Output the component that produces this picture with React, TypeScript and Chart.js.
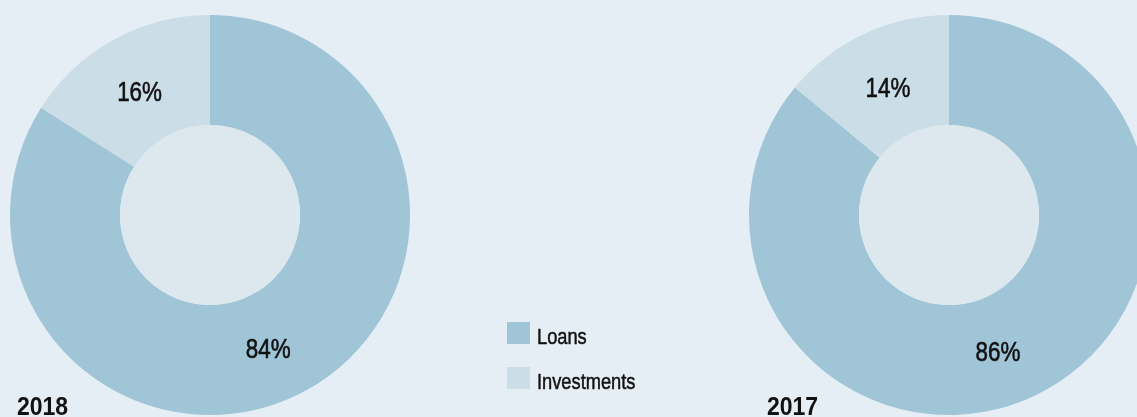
import React, { useEffect, useRef } from "react";
import { Chart, registerables } from "chart.js";

Chart.register(...registerables);

const CATEGORIES = ["Loans", "Investments"];
const YEARS = ["2018", "2017"];
const VALUES_2018 = [84, 16];
const VALUES_2017 = [86, 14];
const SERIES = [VALUES_2018, VALUES_2017];

// styling / layout (not data)
const COLORS = ["#9fc5d6", "#cbdde6"];
const HOLE_COLOR = "#dce8ee";
const BG = "#e6eef5";
const FONT = "'Liberation Sans', Arial, sans-serif";
const W = 1137;
const H = 417;
const CANVAS_W = [W, 1160];
// chart area paddings for each doughnut
const PADS = [
  { left: 10, top: 15, right: W - 410, bottom: H - 415 },
  { left: 749, top: 15, right: 1160 - 1149, bottom: H - 415 },
];
// label polar positions relative to center: [angleDeg, radius]
const LABEL_POLAR = [
  [[66.4, 145.5], [-119.6, 142.6]],
  [[70.2, 144.6], [-115.5, 141.8]],
];
const YEAR_POS = [
  { x: 17, y: 415 },
  { x: 767, y: 415 },
];

function pct(v: number) {
  return v + "%";
}

function drawText(
  ctx: any,
  text: string,
  x: number,
  y: number,
  font: string,
  align: string,
  squeeze: number,
  stroke: number
) {
  ctx.save();
  ctx.translate(x, y);
  ctx.scale(squeeze, 1);
  ctx.font = font;
  ctx.textAlign = align;
  ctx.textBaseline = "alphabetic";
  ctx.fillText(text, 0, 0);
  if (stroke > 0) {
    ctx.lineWidth = stroke;
    ctx.strokeStyle = ctx.fillStyle;
    ctx.lineJoin = "round";
    ctx.strokeText(text, 0, 0);
  }
  ctx.restore();
}

function makePlugins(idx: number) {
  return [
    {
      id: "hole" + idx,
      afterDatasetsDraw(chart: any) {
        const meta = chart.getDatasetMeta(0);
        const arc = meta.data[0];
        if (!arc) return;
        const { x, y, innerRadius } = arc.getProps(["x", "y", "innerRadius"], true);
        const ctx = chart.ctx;
        ctx.save();
        ctx.fillStyle = HOLE_COLOR;
        ctx.beginPath();
        ctx.arc(x, y, innerRadius, 0, Math.PI * 2);
        ctx.fill();
        ctx.restore();
      },
    },
    {
      id: "labels" + idx,
      afterDraw(chart: any) {
        const meta = chart.getDatasetMeta(0);
        const ctx = chart.ctx;
        const data = chart.data.datasets[0].data;
        ctx.save();
        ctx.fillStyle = "#111";
        meta.data.forEach((arc: any, i: number) => {
          const { x, y } = arc.getProps(["x", "y"], true);
          const [a, r] = LABEL_POLAR[idx][i];
          const rad = (a * Math.PI) / 180;
          drawText(
            ctx,
            pct(data[i]),
            x + r * Math.cos(rad),
            y + r * Math.sin(rad) + 10,
            "28px " + FONT,
            "center",
            0.8,
            0.6
          );
        });
        drawText(ctx, YEARS[idx], YEAR_POS[idx].x, YEAR_POS[idx].y, "bold 25px " + FONT, "left", 0.92, 0);
        if (idx === 0) {
          CATEGORIES.forEach((c, i) => {
            const top = 322 + i * 45;
            ctx.fillStyle = COLORS[i];
            ctx.fillRect(507, top, 23, 22);
            ctx.fillStyle = "#111";
            drawText(ctx, c, 537, top + 22, "22px " + FONT, "left", 0.83, 0.5);
          });
        }
        ctx.restore();
      },
    },
  ];
}

function Doughnut({ idx }: { idx: number }) {
  const ref = useRef<HTMLCanvasElement>(null);
  useEffect(() => {
    if (!ref.current) return;
    const chart = new Chart(ref.current, {
      type: "doughnut",
      data: {
        labels: CATEGORIES,
        datasets: [
          {
            data: SERIES[idx],
            backgroundColor: COLORS,
            borderWidth: 0,
          },
        ],
      },
      options: {
        animation: false,
        responsive: false,
        maintainAspectRatio: false,
        cutout: "45%",
        layout: { padding: PADS[idx] },
        plugins: { legend: { display: false }, tooltip: { enabled: false } },
        events: [],
      },
      plugins: makePlugins(idx),
    });
    return () => chart.destroy();
  }, [idx]);
  const cw = CANVAS_W[idx];
  return (
    <canvas
      ref={ref}
      width={cw}
      height={H}
      style={{ position: "absolute", left: 0, top: 0, width: cw, height: H }}
    />
  );
}

export default function App() {
  return (
    <div
      style={{
        position: "absolute",
        left: 0,
        top: 0,
        width: W,
        height: H,
        background: BG,
        overflow: "hidden",
      }}
    >
      <Doughnut idx={0} />
      <Doughnut idx={1} />
    </div>
  );
}
